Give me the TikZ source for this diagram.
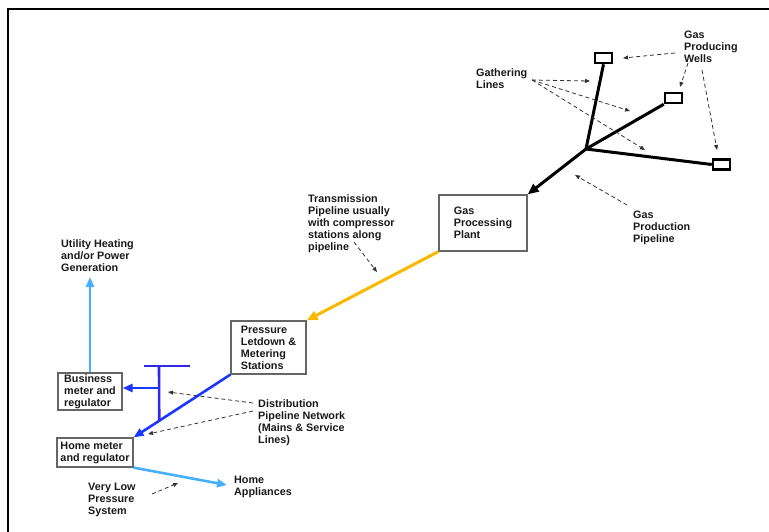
\documentclass[tikz,border=0pt]{standalone}
\usepackage{fontspec}
\setmainfont{Liberation Sans}
\usetikzlibrary{arrows.meta,calc}
\definecolor{pipeyellow}{RGB}{250,185,0}
\definecolor{distblue}{RGB}{25,55,255}
\definecolor{teeblue}{RGB}{50,40,235}
\definecolor{lightblue}{RGB}{70,175,255}
\begin{document}
\begin{tikzpicture}[x=1pt,y=-1pt,
  every node/.style={font=\fontsize{10.8}{12}\selectfont\bfseries, text=black!90},
  lbl/.style={anchor=north west, inner sep=0pt, align=left},
  boxnode/.style={draw=black!60, line width=1.2pt, inner sep=0pt, align=left},
  well/.style={draw=black, line width=2.5pt, minimum width=17pt, minimum height=10pt, inner sep=0pt},
  pipe/.style={line width=3pt, -{Triangle[length=11pt,width=9pt]}},
  note/.style={dash pattern=on 4pt off 3pt, line width=0.8pt, draw=black!80, -{Triangle[length=5pt,width=4pt]}}]
\useasboundingbox (0,0) rectangle (769,531);
% frame
\draw[line width=2pt] (8,532) -- (8,9) -- (770,9);

% wells
\node[well] (w1) at (603.5,58) {};
\node[well] (w2) at (673.5,98) {};
\node[well] (w3) at (721.5,164.5) {};
\coordinate (J) at (586,149);

% boxes
\node[boxnode, minimum width=88pt, minimum height=56pt] (plant) at (483,223) {Gas\\Processing\\Plant};
\node[boxnode, minimum width=75pt, minimum height=53pt] (press) at (268.5,347.5) {Pressure\\Letdown \&\\Metering\\Stations};
\node[boxnode, minimum width=64pt, minimum height=37pt] (bus) at (90,391.5) {Business\\meter and\\regulator};
\node[boxnode, minimum width=76pt, minimum height=29pt] (home) at (95,452.5) {Home meter\\and regulator};

% labels
\node[lbl] (wellslbl) at (684,31) {Gas\\Producing\\Wells};
\node[lbl] (gathlbl) at (476,68) {Gathering\\Lines};
\node[lbl] (translbl) at (308,194) {Transmission\\Pipeline usually\\with compressor\\stations along\\pipeline};
\node[lbl] (gpplbl) at (633,211) {Gas\\Production\\Pipeline};
\node[lbl] (utillbl) at (61,239) {Utility Heating\\and/or Power\\Generation};
\node[lbl] (distlbl) at (258,399) {Distribution\\Pipeline Network\\(Mains \& Service\\Lines)};
\node[lbl] (vlplbl) at (88,483) {Very Low\\Pressure\\System};
\node[lbl] (applbl) at (234,476) {Home\\Appliances};

% gathering lines and production pipeline
\draw[line width=3pt] (J) -- (w1.south);
\draw[line width=3pt] (J) -- (w2.south west);
\draw[line width=3pt] (J) -- (w3.west);
\draw[pipe] (J) -- (plant.north east);

% transmission
\draw[pipe, draw=pipeyellow, -{Triangle[length=11pt,width=9pt,fill=pipeyellow]}] (plant.south west) -- (press.north east);

% distribution
\draw[pipe, draw=distblue, line width=2.6pt, -{Triangle[length=10pt,width=8pt]}] (press.south west) -- (home.north east);
\coordinate (tl) at (144,366);
\coordinate (tr) at (190,366);
\coordinate (tt) at (159,366);
\coordinate (tm) at (159,388);
\coordinate (tb) at ($(press.south west)!0.735!(home.north east)$);
\draw[line width=2.6pt, draw=teeblue] (tl) -- (tr);
\draw[line width=2.6pt, draw=teeblue] (tt) -- (tb);
\draw[pipe, draw=distblue, line width=2.6pt, -{Triangle[length=10pt,width=8pt]}] (tm) -- (tm -| bus.east);

% low pressure
\coordinate (utilpt) at (90,277);
\draw[pipe, draw=lightblue, line width=2.6pt, -{Triangle[length=10pt,width=8pt]}] (bus.north) -- (utilpt);
\coordinate (apppt) at (227,485);
\draw[pipe, draw=lightblue, line width=2.6pt, -{Triangle[length=10pt,width=8pt]}] (home.south east) -- (apppt);

% annotation arrows
\coordinate (gw1s) at (675,53); \coordinate (gw1e) at (623,58);
\coordinate (gw2s) at (688,63); \coordinate (gw2e) at (680,87);
\coordinate (gw3s) at (702,70); \coordinate (gw3e) at (717,150);
\draw[note] (gw1s) -- (gw1e);
\draw[note] (gw2s) -- (gw2e);
\draw[note] (gw3s) -- (gw3e);
\coordinate (gls) at (532,80);
\coordinate (gle1) at (590,81);
\coordinate (gle2) at (630,111);
\coordinate (gle3) at (645,150);
\draw[note] (gls) -- (gle1);
\draw[note] (gls) -- (gle2);
\draw[note] (gls) -- (gle3);
\coordinate (gps) at (627,205); \coordinate (gpe) at (575,175);
\draw[note] (gps) -- (gpe);
\coordinate (trs) at (354,242); \coordinate (tre) at (377,272);
\draw[note] (trs) -- (tre);
\coordinate (ds1) at (253,403); \coordinate (de1) at (168,392);
\coordinate (ds2) at (253,411); \coordinate (de2) at (148,434);
\draw[note] (ds1) -- (de1);
\draw[note] (ds2) -- (de2);
\coordinate (vs) at (152,494); \coordinate (ve) at (178,483);
\draw[note] (vs) -- (ve);
\end{tikzpicture}
\end{document}
